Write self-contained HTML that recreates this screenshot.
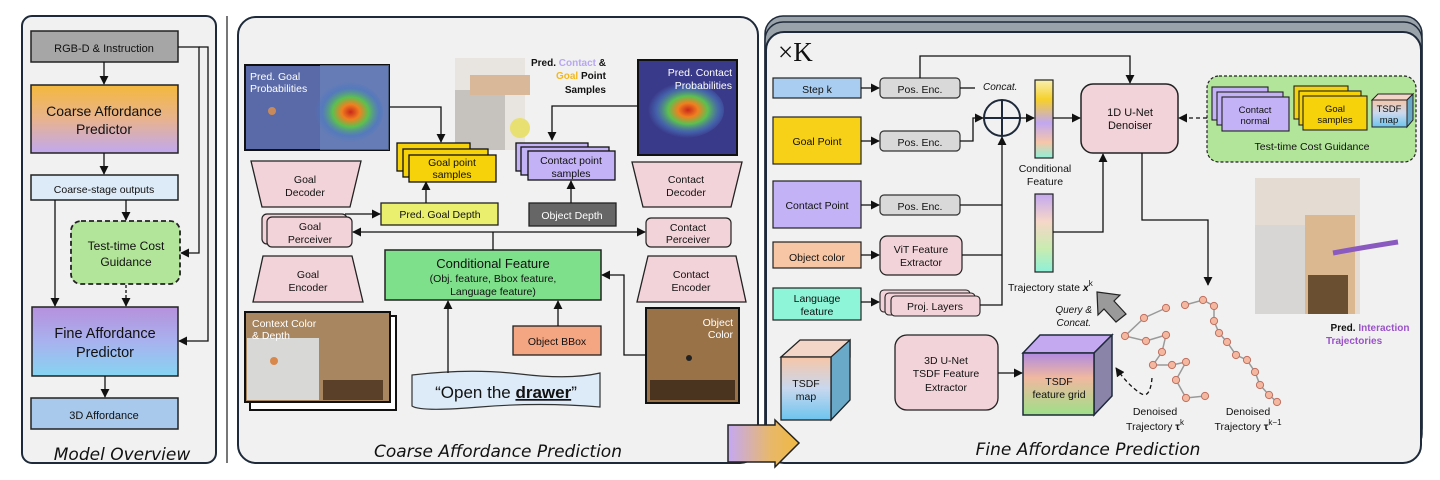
<!DOCTYPE html>
<html><head><meta charset="utf-8"><style>
html,body{margin:0;padding:0;background:#fff}
svg{display:block}
text{font-family:"Liberation Sans",sans-serif;fill:#111}
.it{font-style:italic}
.ttl{font-family:"DejaVu Sans","Liberation Sans",sans-serif;font-style:italic;font-size:17px}
</style></head><body>
<svg width="1440" height="480" viewBox="0 0 1440 480" xmlns="http://www.w3.org/2000/svg">
<defs>
<linearGradient id="gc" x1="0" y1="0" x2="0" y2="1"><stop offset="0" stop-color="#f4b83c"/><stop offset="0.5" stop-color="#e8b38e"/><stop offset="1" stop-color="#c0a8f0"/></linearGradient>
<linearGradient id="gf" x1="0" y1="0" x2="0" y2="1"><stop offset="0" stop-color="#b690dc"/><stop offset="0.5" stop-color="#a8b2ee"/><stop offset="1" stop-color="#86d4f2"/></linearGradient>
<linearGradient id="gbar1" x1="0" y1="0" x2="0" y2="1"><stop offset="0" stop-color="#f8f0b0"/><stop offset="0.25" stop-color="#f6d02a"/><stop offset="0.55" stop-color="#c0a8f0"/><stop offset="0.8" stop-color="#f6c6a8"/><stop offset="1" stop-color="#8ef0d8"/></linearGradient>
<linearGradient id="gbar2" x1="0" y1="0" x2="0" y2="1"><stop offset="0" stop-color="#c4a8f0"/><stop offset="0.35" stop-color="#f6d6c8"/><stop offset="0.7" stop-color="#c8ecb0"/><stop offset="1" stop-color="#8ef0d8"/></linearGradient>
<linearGradient id="gtsdf" x1="0" y1="0" x2="0" y2="1"><stop offset="0" stop-color="#f6c6a8"/><stop offset="0.5" stop-color="#c8d8ee"/><stop offset="1" stop-color="#6cc4ee"/></linearGradient>
<linearGradient id="ggrid" x1="0" y1="0" x2="0" y2="1"><stop offset="0" stop-color="#b08ae0"/><stop offset="0.4" stop-color="#f0b8a0"/><stop offset="1" stop-color="#9ee088"/></linearGradient>
<linearGradient id="garr" x1="0" y1="0" x2="1" y2="0"><stop offset="0" stop-color="#c4a8f4"/><stop offset="0.6" stop-color="#e8b86a"/><stop offset="1" stop-color="#f0b840"/></linearGradient>
<radialGradient id="heat" cx="0.55" cy="0.5" r="0.5"><stop offset="0" stop-color="#c8281a"/><stop offset="0.25" stop-color="#f08020"/><stop offset="0.5" stop-color="#5cc050"/><stop offset="0.8" stop-color="#4a78c0" stop-opacity="0.6"/><stop offset="1" stop-color="#4a78c0" stop-opacity="0"/></radialGradient>
<marker id="ar" viewBox="0 0 10 10" refX="9" refY="5" markerWidth="7" markerHeight="7" orient="auto-start-reverse"><path d="M0,0L10,5L0,10z" fill="#111"/></marker>
</defs>

<!-- LEFT PANEL -->
<rect x="22" y="16" width="194" height="447" rx="10" fill="#f1f1f1" stroke="#1e2a3a" stroke-width="2"/>
<rect x="31" y="31" width="147" height="31" fill="#a6a6a6" stroke="#222" stroke-width="1.5"/>
<text x="104" y="52" font-size="11" text-anchor="middle">RGB-D &amp; Instruction</text>
<rect x="31" y="85" width="147" height="68" fill="url(#gc)" stroke="#222" stroke-width="1.5"/>
<text x="104" y="116" font-size="14" text-anchor="middle">Coarse Affordance</text>
<text x="104" y="134" font-size="14" text-anchor="middle">Predictor</text>
<rect x="31" y="175" width="147" height="25" fill="#ddeaf7" stroke="#222" stroke-width="1.5"/>
<text x="104" y="193" font-size="10.5" text-anchor="middle">Coarse-stage outputs</text>
<rect x="71" y="221" width="109" height="63" rx="10" fill="#b2e59a" stroke="#222" stroke-width="1.8" stroke-dasharray="5,3"/>
<text x="126" y="250" font-size="12" text-anchor="middle">Test-time Cost</text>
<text x="126" y="266" font-size="12" text-anchor="middle">Guidance</text>
<rect x="32" y="307" width="146" height="69" fill="url(#gf)" stroke="#222" stroke-width="1.5"/>
<text x="105" y="338" font-size="14.5" text-anchor="middle">Fine Affordance</text>
<text x="105" y="357" font-size="14.5" text-anchor="middle">Predictor</text>
<rect x="31" y="398" width="147" height="31" fill="#a9c9ec" stroke="#222" stroke-width="1.5"/>
<text x="104" y="419" font-size="11" text-anchor="middle">3D Affordance</text>
<text x="122" y="460" class="ttl" text-anchor="middle">Model Overview</text>
<g stroke="#111" stroke-width="1.3" fill="none">
<line x1="104" y1="62" x2="104" y2="84" marker-end="url(#ar)"/>
<line x1="104" y1="153" x2="104" y2="174" marker-end="url(#ar)"/>
<line x1="126" y1="200" x2="126" y2="220" marker-end="url(#ar)"/>
<line x1="55" y1="200" x2="55" y2="306" marker-end="url(#ar)"/>
<line x1="126" y1="285" x2="126" y2="306" stroke-dasharray="3,2" marker-end="url(#ar)"/>
<line x1="105" y1="376" x2="105" y2="397" marker-end="url(#ar)"/>
<polyline points="178,47 199,47 199,253 181,253" marker-end="url(#ar)"/>
<polyline points="199,47 208,47 208,341 179,341" marker-end="url(#ar)"/>
</g>
<line x1="227" y1="16" x2="227" y2="463" stroke="#777" stroke-width="2"/>

<!-- COARSE PANEL -->
<rect x="238" y="17" width="520" height="446" rx="18" fill="#f1f1f1" stroke="#1e2a3a" stroke-width="2"/>
<!-- goal prob image -->
<rect x="245" y="65" width="144" height="85" fill="#5a6aa8" stroke="#111" stroke-width="2"/>
<rect x="320" y="65" width="69" height="85" fill="#6c88c0" opacity="0.6"/>
<ellipse cx="347" cy="112" rx="36" ry="30" fill="url(#heat)"/>
<circle cx="272" cy="111" r="4" fill="#c88a5a"/>
<text x="250" y="80" font-size="10.5" style="fill:#fff">Pred. Goal</text>
<text x="250" y="92" font-size="10.5" style="fill:#fff">Probabilities</text>
<!-- center point cloud image -->
<rect x="455" y="58" width="70" height="92" fill="#e8e4e0"/>
<rect x="455" y="90" width="50" height="60" fill="#c6c2be"/>
<rect x="470" y="75" width="60" height="20" fill="#d8b898"/>
<circle cx="520" cy="128" r="10" fill="#e8e070"/>
<text x="606" y="66" font-size="10" font-weight="bold" text-anchor="end">Pred. <tspan style="fill:#b8a6f2">Contact</tspan> &amp;</text>
<text x="606" y="79" font-size="10" font-weight="bold" text-anchor="end"><tspan style="fill:#f2b820">Goal</tspan> Point</text>
<text x="606" y="93" font-size="10" font-weight="bold" text-anchor="end">Samples</text>
<!-- goal samples -->
<rect x="397" y="143" width="73" height="28" fill="#f5d20a" stroke="#111" stroke-width="1.3"/>
<rect x="403" y="149" width="85" height="28" fill="#f5d20a" stroke="#111" stroke-width="1.3"/>
<rect x="409" y="155" width="87" height="27" fill="#f5d20a" stroke="#111" stroke-width="1.3"/>
<text x="452" y="166" font-size="10.5" text-anchor="middle">Goal point</text>
<text x="452" y="178" font-size="10.5" text-anchor="middle">samples</text>
<!-- contact samples -->
<rect x="516" y="143" width="72" height="28" fill="#c3b2f5" stroke="#111" stroke-width="1.3"/>
<rect x="521" y="147" width="88" height="28" fill="#c3b2f5" stroke="#111" stroke-width="1.3"/>
<rect x="528" y="151" width="87" height="29" fill="#c3b2f5" stroke="#111" stroke-width="1.3"/>
<text x="571" y="164" font-size="10.5" text-anchor="middle">Contact point</text>
<text x="571" y="177" font-size="10.5" text-anchor="middle">samples</text>
<rect x="381" y="203" width="117" height="22" fill="#eaef6e" stroke="#222" stroke-width="1.3"/>
<text x="440" y="218" font-size="10.5" text-anchor="middle">Pred. Goal Depth</text>
<rect x="529" y="203" width="87" height="23" fill="#666" stroke="#222" stroke-width="1.3"/>
<text x="572" y="219" font-size="10.5" text-anchor="middle" style="fill:#fff">Object Depth</text>
<!-- contact prob image -->
<rect x="638" y="60" width="99" height="95" fill="#3a3a8a" stroke="#111" stroke-width="2"/>
<ellipse cx="684" cy="110" rx="40" ry="28" fill="url(#heat)"/>
<text x="732" y="76" font-size="10.5" text-anchor="end" style="fill:#fff">Pred. Contact</text>
<text x="732" y="89" font-size="10.5" text-anchor="end" style="fill:#fff">Probabilities</text>
<!-- goal branch -->
<polygon points="251,161 361,161 350,207 262,207" fill="#f2d3d9" stroke="#222" stroke-width="1.3"/>
<text x="305" y="183" font-size="10.5" text-anchor="middle">Goal</text>
<text x="305" y="196" font-size="10.5" text-anchor="middle">Decoder</text>
<rect x="262" y="214" width="85" height="30" rx="5" fill="#f2d3d9" stroke="#222" stroke-width="1.2"/>
<rect x="267" y="217" width="85" height="30" rx="5" fill="#f2d3d9" stroke="#222" stroke-width="1.2"/>
<text x="310" y="230" font-size="10.5" text-anchor="middle">Goal</text>
<text x="310" y="243" font-size="10.5" text-anchor="middle">Perceiver</text>
<polygon points="263,256 352,256 363,302 253,302" fill="#f2d3d9" stroke="#222" stroke-width="1.3"/>
<text x="308" y="278" font-size="10.5" text-anchor="middle">Goal</text>
<text x="308" y="291" font-size="10.5" text-anchor="middle">Encoder</text>
<!-- context image -->
<rect x="250" y="316" width="146" height="94" fill="#fff" stroke="#111" stroke-width="2"/>
<rect x="245" y="312" width="145" height="90" fill="#a88660" stroke="#111" stroke-width="2"/>
<rect x="247" y="338" width="72" height="62" fill="#d8d8d6"/>
<rect x="323" y="380" width="60" height="20" fill="#5a4028"/>
<circle cx="274" cy="361" r="4" fill="#d8884a"/>
<text x="252" y="327" font-size="10.5" style="fill:#fff">Context Color</text>
<text x="252" y="339" font-size="10.5" style="fill:#fff">&amp; Depth</text>
<!-- conditional -->
<rect x="385" y="250" width="216" height="50" fill="#7fe08c" stroke="#222" stroke-width="1.5"/>
<text x="493" y="268" font-size="13" text-anchor="middle">Conditional Feature</text>
<text x="493" y="282" font-size="10.5" text-anchor="middle">(Obj. feature, Bbox feature,</text>
<text x="493" y="295" font-size="10.5" text-anchor="middle">Language feature)</text>
<rect x="513" y="326" width="88" height="29" fill="#f4a582" stroke="#222" stroke-width="1.3"/>
<text x="557" y="345" font-size="10.5" text-anchor="middle">Object BBox</text>
<path d="M412,375 Q470,368 520,374 T600,373 L600,407 Q540,402 480,407 T412,406 Z" fill="#ddeaf7" stroke="#333" stroke-width="1.2"/>
<text x="506" y="398" font-size="17" text-anchor="middle">“Open the <tspan font-weight="bold" text-decoration="underline">drawer</tspan>”</text>
<!-- contact branch -->
<polygon points="632,162 742,162 731,207 643,207" fill="#f2d3d9" stroke="#222" stroke-width="1.3"/>
<text x="686" y="183" font-size="10.5" text-anchor="middle">Contact</text>
<text x="686" y="196" font-size="10.5" text-anchor="middle">Decoder</text>
<rect x="646" y="218" width="85" height="29" rx="5" fill="#f2d3d9" stroke="#222" stroke-width="1.2"/>
<text x="688" y="231" font-size="10.5" text-anchor="middle">Contact</text>
<text x="688" y="243" font-size="10.5" text-anchor="middle">Perceiver</text>
<polygon points="648,256 736,256 746,302 637,302" fill="#f2d3d9" stroke="#222" stroke-width="1.3"/>
<text x="691" y="278" font-size="10.5" text-anchor="middle">Contact</text>
<text x="691" y="291" font-size="10.5" text-anchor="middle">Encoder</text>
<rect x="646" y="308" width="93" height="95" fill="#9a7248" stroke="#111" stroke-width="2"/>
<rect x="650" y="380" width="85" height="20" fill="#4a3420"/>
<circle cx="689" cy="358" r="3" fill="#222"/>
<text x="733" y="326" font-size="10.5" text-anchor="end" style="fill:#fff">Object</text>
<text x="733" y="338" font-size="10.5" text-anchor="end" style="fill:#fff">Color</text>
<g stroke="#111" stroke-width="1.3" fill="none">
<polyline points="389,107 441,107 441,142" marker-end="url(#ar)"/>
<polyline points="638,106 552,106 552,140" marker-end="url(#ar)"/>
<line x1="426" y1="203" x2="426" y2="182" marker-end="url(#ar)"/>
<line x1="571" y1="203" x2="571" y2="181" marker-end="url(#ar)"/>
<line x1="345" y1="214" x2="380" y2="214" marker-end="url(#ar)"/>
<line x1="493" y1="250" x2="493" y2="232"/>
<line x1="493" y1="232" x2="353" y2="232" marker-end="url(#ar)"/>
<line x1="493" y1="232" x2="645" y2="232" marker-end="url(#ar)"/>
<line x1="558" y1="326" x2="558" y2="301" marker-end="url(#ar)"/>
<polyline points="646,355 624,355 624,275 602,275" marker-end="url(#ar)"/>
<line x1="448" y1="373" x2="448" y2="301" marker-end="url(#ar)"/>
</g>
<text x="498" y="457" class="ttl" text-anchor="middle">Coarse Affordance Prediction</text>

<!-- FINE PANEL -->
<rect x="765" y="16" width="657" height="430" rx="18" fill="#9aa2aa" stroke="#1e2a3a" stroke-width="1.5"/>
<rect x="765" y="22" width="657" height="430" rx="18" fill="#9aa2aa" stroke="#1e2a3a" stroke-width="1.5"/>
<rect x="766" y="32" width="655" height="431" rx="18" fill="#f1f1f1" stroke="#1e2a3a" stroke-width="2"/>
<text x="778" y="61" font-size="27" style="font-family:'Liberation Serif',serif">×K</text>
<rect x="773" y="78" width="88" height="20" fill="#a9cdf0" stroke="#222" stroke-width="1.2"/>
<text x="817" y="93" font-size="10.5" text-anchor="middle">Step k</text>
<rect x="773" y="117" width="88" height="47" fill="#f7d117" stroke="#222" stroke-width="1.2"/>
<text x="817" y="145" font-size="10.5" text-anchor="middle">Goal Point</text>
<rect x="773" y="181" width="88" height="47" fill="#c3b2f5" stroke="#222" stroke-width="1.2"/>
<text x="817" y="209" font-size="10.5" text-anchor="middle">Contact Point</text>
<rect x="773" y="242" width="88" height="26" fill="#f7c6a5" stroke="#222" stroke-width="1.2"/>
<text x="817" y="261" font-size="10.5" text-anchor="middle">Object color</text>
<rect x="773" y="288" width="88" height="32" fill="#8ff5d8" stroke="#222" stroke-width="1.2"/>
<text x="817" y="302" font-size="10.5" text-anchor="middle">Language</text>
<text x="817" y="315" font-size="10.5" text-anchor="middle">feature</text>
<g fill="#d9d9d9" stroke="#333" stroke-width="1.2">
<rect x="880" y="78" width="80" height="20" rx="4"/>
<rect x="880" y="131" width="80" height="20" rx="4"/>
<rect x="880" y="195" width="80" height="20" rx="4"/>
</g>
<text x="920" y="93" font-size="10.5" text-anchor="middle">Pos. Enc.</text>
<text x="920" y="146" font-size="10.5" text-anchor="middle">Pos. Enc.</text>
<text x="920" y="210" font-size="10.5" text-anchor="middle">Pos. Enc.</text>
<rect x="880" y="236" width="82" height="39" rx="7" fill="#f2d3d9" stroke="#222" stroke-width="1.2"/>
<text x="921" y="253" font-size="10.5" text-anchor="middle">ViT Feature</text>
<text x="921" y="266" font-size="10.5" text-anchor="middle">Extractor</text>
<rect x="880" y="290" width="90" height="22" rx="4" fill="#f2d3d9" stroke="#222" stroke-width="1.1"/>
<rect x="885" y="293" width="90" height="22" rx="4" fill="#f2d3d9" stroke="#222" stroke-width="1.1"/>
<rect x="891" y="296" width="89" height="20" rx="4" fill="#f2d3d9" stroke="#222" stroke-width="1.1"/>
<text x="935" y="310" font-size="10.5" text-anchor="middle">Proj. Layers</text>
<!-- TSDF map cube -->
<polygon points="781,357 800,340 850,340 850,357" fill="#f4d6c8" stroke="#222" stroke-width="1.3"/>
<polygon points="850,340 850,400 831,420 831,357" fill="#6aaac8" stroke="#222" stroke-width="1.3"/>
<rect x="781" y="357" width="50" height="63" fill="url(#gtsdf)" stroke="#222" stroke-width="1.3"/>
<text x="806" y="387" font-size="10.5" text-anchor="middle">TSDF</text>
<text x="806" y="400" font-size="10.5" text-anchor="middle">map</text>
<rect x="895" y="335" width="103" height="75" rx="12" fill="#f2d3d9" stroke="#222" stroke-width="1.3"/>
<text x="946" y="364" font-size="10.5" text-anchor="middle">3D U-Net</text>
<text x="946" y="377" font-size="10.5" text-anchor="middle">TSDF Feature</text>
<text x="946" y="391" font-size="10.5" text-anchor="middle">Extractor</text>
<!-- oplus -->
<circle cx="1002" cy="118" r="18" fill="none" stroke="#1e2a3a" stroke-width="2"/>
<line x1="984" y1="118" x2="1020" y2="118" stroke="#1e2a3a" stroke-width="2"/>
<line x1="1002" y1="100" x2="1002" y2="136" stroke="#1e2a3a" stroke-width="2"/>
<text x="983" y="90" font-size="10" class="it">Concat.</text>
<rect x="1035" y="80" width="18" height="78" fill="url(#gbar1)" stroke="#222" stroke-width="1.2"/>
<text x="1045" y="172" font-size="10.5" text-anchor="middle">Conditional</text>
<text x="1045" y="185" font-size="10.5" text-anchor="middle">Feature</text>
<rect x="1035" y="194" width="18" height="78" fill="url(#gbar2)" stroke="#222" stroke-width="1.2"/>
<text x="1008" y="291" font-size="10.5">Trajectory state <tspan class="it" font-weight="bold">x</tspan><tspan font-size="8" dy="-5">k</tspan></text>
<rect x="1081" y="84" width="97" height="69" rx="12" fill="#f2d3d9" stroke="#222" stroke-width="1.5"/>
<text x="1130" y="116" font-size="11" text-anchor="middle">1D U-Net</text>
<text x="1130" y="129" font-size="11" text-anchor="middle">Denoiser</text>
<!-- test-time cost box -->
<rect x="1207" y="76" width="209" height="86" rx="12" fill="#b2e59a" stroke="#222" stroke-width="1.2" stroke-dasharray="3,2"/>
<rect x="1212" y="87" width="56" height="33" fill="#c3b2f5" stroke="#222" stroke-width="1.1"/>
<rect x="1217" y="92" width="66" height="33" fill="#c3b2f5" stroke="#222" stroke-width="1.1"/>
<rect x="1222" y="97" width="67" height="34" fill="#c3b2f5" stroke="#222" stroke-width="1.1"/>
<text x="1255" y="113" font-size="9.5" text-anchor="middle">Contact</text>
<text x="1255" y="124" font-size="9.5" text-anchor="middle">normal</text>
<rect x="1294" y="86" width="54" height="33" fill="#f5d20a" stroke="#222" stroke-width="1.1"/>
<rect x="1299" y="91" width="62" height="34" fill="#f5d20a" stroke="#222" stroke-width="1.1"/>
<rect x="1303" y="96" width="64" height="34" fill="#f5d20a" stroke="#222" stroke-width="1.1"/>
<text x="1335" y="112" font-size="9.5" text-anchor="middle">Goal</text>
<text x="1335" y="123" font-size="9.5" text-anchor="middle">samples</text>
<polygon points="1372,100 1378,94 1413,94 1407,100" fill="#f4d6c8" stroke="#222" stroke-width="1"/>
<polygon points="1413,94 1413,120 1407,127 1407,100" fill="#6aaac8" stroke="#222" stroke-width="1"/>
<rect x="1372" y="100" width="35" height="27" fill="url(#gtsdf)" stroke="#222" stroke-width="1"/>
<text x="1389" y="112" font-size="9.5" text-anchor="middle">TSDF</text>
<text x="1389" y="123" font-size="9.5" text-anchor="middle">map</text>
<text x="1312" y="150" font-size="10.5" text-anchor="middle">Test-time Cost Guidance</text>
<!-- pred image -->
<rect x="1255" y="178" width="105" height="136" fill="#e4dcd2"/>
<rect x="1255" y="225" width="50" height="89" fill="#d8d6d4"/>
<rect x="1305" y="215" width="50" height="99" fill="#dcb890"/>
<rect x="1308" y="275" width="40" height="39" fill="#6a5030"/>
<path d="M1333,253 Q1360,248 1398,242" stroke="#8a5ac0" stroke-width="5" fill="none"/>
<text x="1370" y="331" font-size="10" font-weight="bold" text-anchor="middle">Pred. <tspan style="fill:#9a52c8">Interaction</tspan></text>
<text x="1326" y="344" font-size="10" font-weight="bold" style="fill:#9a52c8">Trajectories</text>
<!-- feature grid cube -->
<polygon points="1023,353 1040,335 1112,335 1094,353" fill="#c4a8f0" stroke="#1e2a3a" stroke-width="1.5"/>
<polygon points="1112,335 1112,396 1094,415 1094,353" fill="#8a84a8" stroke="#1e2a3a" stroke-width="1.5"/>
<rect x="1023" y="353" width="71" height="62" fill="url(#ggrid)" stroke="#1e2a3a" stroke-width="1.5"/>
<text x="1059" y="385" font-size="10.5" text-anchor="middle">TSDF</text>
<text x="1059" y="398" font-size="10.5" text-anchor="middle">feature grid</text>
<!-- query arrow -->
<polygon points="1097,292 1120,295 1114,301 1126,314 1116,322 1104,309 1098,315" fill="#9a9a9a" stroke="#222" stroke-width="1.2"/>
<text x="1092" y="313" font-size="10" class="it" text-anchor="end">Query &amp;</text>
<text x="1091" y="326" font-size="10" class="it" text-anchor="end">Concat.</text>
<!-- trajectories -->
<g stroke="#999" stroke-width="1.5" fill="none">
<polyline points="1166,308 1144,318 1125,336 1146,341 1166,335 1162,352 1153,365 1172,365 1186,362 1176,380 1186,398 1205,396"/>
<polyline points="1185,305 1203,300 1214,306 1214,321 1219,333 1227,342 1236,355 1247,360 1255,372 1260,385 1269,395 1277,402"/>
</g>
<g fill="#f4b8a0" stroke="#c07060" stroke-width="1">
<circle cx="1166" cy="308" r="3.6"/><circle cx="1144" cy="318" r="3.6"/><circle cx="1125" cy="336" r="3.6"/><circle cx="1146" cy="341" r="3.6"/><circle cx="1166" cy="335" r="3.6"/><circle cx="1162" cy="352" r="3.6"/><circle cx="1153" cy="365" r="3.6"/><circle cx="1172" cy="365" r="3.6"/><circle cx="1186" cy="362" r="3.6"/><circle cx="1176" cy="380" r="3.6"/><circle cx="1186" cy="398" r="3.6"/><circle cx="1205" cy="396" r="3.6"/>
<circle cx="1185" cy="305" r="3.6"/><circle cx="1203" cy="300" r="3.6"/><circle cx="1214" cy="306" r="3.6"/><circle cx="1214" cy="321" r="3.6"/><circle cx="1219" cy="333" r="3.6"/><circle cx="1227" cy="342" r="3.6"/><circle cx="1236" cy="355" r="3.6"/><circle cx="1247" cy="360" r="3.6"/><circle cx="1255" cy="372" r="3.6"/><circle cx="1260" cy="385" r="3.6"/><circle cx="1269" cy="395" r="3.6"/><circle cx="1277" cy="402" r="3.6"/>
</g>
<text x="1155" y="415" font-size="10.5" text-anchor="middle">Denoised</text>
<text x="1155" y="430" font-size="10.5" text-anchor="middle">Trajectory <tspan font-weight="bold">τ</tspan><tspan font-size="8" dy="-5">k</tspan></text>
<text x="1248" y="415" font-size="10.5" text-anchor="middle">Denoised</text>
<text x="1248" y="430" font-size="10.5" text-anchor="middle">Trajectory <tspan font-weight="bold">τ</tspan><tspan font-size="8" dy="-5">k−1</tspan></text>
<g stroke="#111" stroke-width="1.3" fill="none">
<line x1="861" y1="88" x2="879" y2="88" marker-end="url(#ar)"/>
<line x1="861" y1="141" x2="879" y2="141" marker-end="url(#ar)"/>
<line x1="861" y1="205" x2="879" y2="205" marker-end="url(#ar)"/>
<line x1="861" y1="255" x2="879" y2="255" marker-end="url(#ar)"/>
<line x1="861" y1="302" x2="879" y2="302" marker-end="url(#ar)"/>
<polyline points="920,78 920,56 1130,56 1130,83" marker-end="url(#ar)"/>
<polyline points="960,88 975,88"/>
<polyline points="960,141 973,141 973,118 983,118" marker-end="url(#ar)"/>
<polyline points="960,205 1002,205"/>
<polyline points="962,255 1002,255"/>
<polyline points="980,305 1002,305 1002,137" marker-end="url(#ar)"/>
<line x1="1020" y1="118" x2="1034" y2="118" marker-end="url(#ar)"/>
<line x1="1053" y1="118" x2="1080" y2="118" marker-end="url(#ar)"/>
<polyline points="1053,232 1103,232 1103,154" marker-end="url(#ar)"/>
<polyline points="1142,153 1142,220 1208,220 1208,285" marker-end="url(#ar)"/>
<line x1="1207" y1="118" x2="1179" y2="118" stroke-dasharray="4,3" marker-end="url(#ar)"/>
<line x1="998" y1="373" x2="1022" y2="373" marker-end="url(#ar)"/>
<path d="M1152,378 Q1150,400 1140,393 Q1128,385 1116,368" stroke-dasharray="4,3" marker-end="url(#ar)"/>
</g>
<text x="1088" y="455" class="ttl" text-anchor="middle">Fine Affordance Prediction</text>

<!-- big transition arrow -->
<polygon points="728,425 775,425 775,420 799,443 775,467 775,462 728,462" fill="url(#garr)" stroke="#222" stroke-width="1.5"/>
</svg>
</body></html>
